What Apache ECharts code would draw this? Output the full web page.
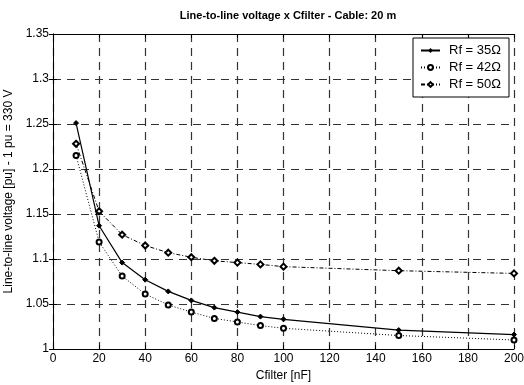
<!DOCTYPE html>
<html>
<head>
<meta charset="utf-8">
<script src="https://cdn.jsdelivr.net/npm/echarts@6/dist/echarts.min.js"></script>
<style>
  html, body { margin: 0; padding: 0; background: #fff; }
  #chart { width: 524px; height: 385px; }
</style>
</head>
<body>
<div id="chart"></div>
<script>
const cfilter = [10, 20, 30, 40, 50, 60, 70, 80, 90, 100, 150, 200];
const rf35 = [1.251, 1.137, 1.096, 1.077, 1.064, 1.054, 1.046, 1.041, 1.036, 1.033, 1.021, 1.016];
const rf42 = [1.215, 1.119, 1.081, 1.061, 1.049, 1.041, 1.034, 1.030, 1.026, 1.023, 1.015, 1.010];
const rf50 = [1.228, 1.153, 1.127, 1.115, 1.107, 1.102, 1.098, 1.096, 1.094, 1.0915, 1.087, 1.084];
const seriesNames = ['Rf = 35\u03A9', 'Rf = 42\u03A9', 'Rf = 50\u03A9'];

const pairs = vals => cfilter.map((c, i) => [c, vals[i]]);
const font = 'Liberation Sans, Arial, sans-serif';

const chart = echarts.init(document.getElementById('chart'));

const gridLine = { show: true, lineStyle: { color: '#333', type: [8, 6], width: 1.2 } };

chart.setOption({
  animation: false,
  title: {
    text: 'Line-to-line voltage x Cfilter - Cable: 20 m',
    left: 283,
    textAlign: 'center',
    top: 5,
    textStyle: { fontFamily: font, fontSize: 11, fontWeight: 'bold', color: '#000' }
  },
  grid: { left: 53, right: 10, top: 34, bottom: 36, outerBoundsMode: 'none', containLabel: false },
  legend: {
    orient: 'vertical',
    right: 15,
    top: 38,
    itemWidth: 19,
    itemHeight: 6,
    itemGap: 4,
    padding: [6, 8, 6, 7],
    backgroundColor: '#fff',
    borderColor: '#000',
    borderWidth: 1,
    textStyle: { fontFamily: font, fontSize: 13, color: '#000', padding: [0, 0, 0, 4] },
    data: seriesNames
  },
  xAxis: [{
    type: 'value',
    min: 0, max: 200, interval: 20,
    name: 'Cfilter [nF]',
    nameLocation: 'middle',
    nameGap: 19,
    nameTextStyle: { fontFamily: font, fontSize: 12, color: '#000' },
    axisLine: { lineStyle: { color: '#000' } },
    axisTick: { inside: true, length: 4, lineStyle: { color: '#000' } },
    axisLabel: { fontFamily: font, fontSize: 12, color: '#000', margin: 4 },
    splitLine: gridLine
  }, {
    type: 'value', position: 'top',
    min: 0, max: 200, interval: 20,
    axisLine: { show: true, lineStyle: { color: '#000' } },
    axisTick: { show: true, inside: true, length: 4, lineStyle: { color: '#000' } },
    axisLabel: { show: false },
    splitLine: { show: false }
  }],
  yAxis: [{
    type: 'value',
    min: 1, max: 1.35, interval: 0.05,
    name: 'Line-to-line voltage [pu] - 1 pu = 330 V',
    nameLocation: 'middle',
    nameGap: 35,
    nameTextStyle: { fontFamily: font, fontSize: 12, color: '#000' },
    axisLine: { show: true, lineStyle: { color: '#000' } },
    axisTick: { show: true, inside: true, length: 4, lineStyle: { color: '#000' } },
    axisLabel: { fontFamily: font, fontSize: 12, color: '#000', margin: 4 },
    splitLine: gridLine
  }, {
    type: 'value', position: 'right',
    min: 1, max: 1.35, interval: 0.05,
    axisLine: { show: true, lineStyle: { color: '#000' } },
    axisTick: { show: true, inside: true, length: 4, lineStyle: { color: '#000' } },
    axisLabel: { show: false },
    splitLine: { show: false }
  }],
  series: [{
    name: seriesNames[0],
    type: 'line',
    data: pairs(rf35),
    symbol: 'diamond',
    symbolSize: 5,
    itemStyle: { color: '#000', borderColor: '#000' },
    lineStyle: { color: '#000', width: 1.2 }
  }, {
    name: seriesNames[1],
    type: 'line',
    data: pairs(rf42),
    symbol: 'emptyCircle',
    symbolSize: 5,
    itemStyle: { color: '#000', borderColor: '#000', borderWidth: 0.8 },
    lineStyle: { color: '#000', width: 1, type: [1, 2] }
  }, {
    name: seriesNames[2],
    type: 'line',
    data: pairs(rf50),
    symbol: 'emptyDiamond',
    symbolSize: 6,
    itemStyle: { color: '#000', borderColor: '#000', borderWidth: 0.8 },
    lineStyle: { color: '#000', width: 1, type: [4, 2, 1, 2] }
  }]
});
</script>
</body>
</html>
